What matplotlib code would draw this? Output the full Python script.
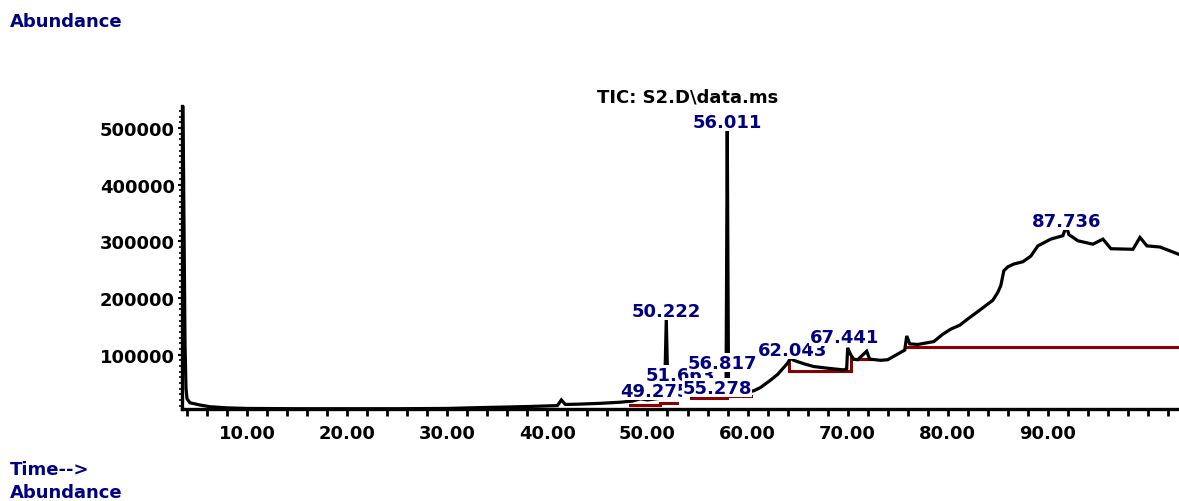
import matplotlib
matplotlib.use("Agg")
import matplotlib.pyplot as plt
from matplotlib.ticker import MultipleLocator, FuncFormatter

# ---------------- data ----------------
time_min = [3.60, 3.80, 3.90, 4.00, 4.30, 5.30, 6.30, 8.00, 10.0, 15.0, 20.0, 25.0,
            30.0, 33.3, 36.0, 38.3, 41.0, 41.4, 41.8, 43.0, 45.3, 47.3, 48.5, 49.3,
            50.0, 51.7, 51.88, 52.05, 53.3, 54.3, 55.5, 57.0, 57.85, 57.97, 58.1,
            58.6, 59.3, 60.6, 61.3, 62.3, 63.0, 64.0, 64.3, 64.6, 65.6, 66.6, 68.0,
            69.6, 69.9, 70.0, 70.3, 70.6, 71.0, 71.9, 72.2, 73.3, 74.0, 75.3, 75.7,
            75.9, 76.2, 77.0, 78.6, 79.5, 80.3, 81.2, 82.0, 83.0, 83.6, 84.5, 85.0,
            85.3, 85.6, 86.0, 86.6, 87.5, 88.3, 89.0, 90.3, 91.5, 91.85, 92.1, 93.0,
            94.5, 95.5, 96.3, 98.5, 99.2, 99.9, 101.2, 103.1]
abundance = [539000, 120000, 40000, 22000, 15000, 11000, 8000, 6000, 5000, 4500, 4500, 4500,
             5000, 6500, 7500, 8500, 10000, 20000, 12000, 12500, 14000, 16000, 18000, 22000,
             20000, 24000, 163600, 26000, 28000, 26000, 30000, 32000, 34000, 503000, 34000,
             36000, 32000, 36000, 42000, 55000, 65000, 85000, 94000, 90000, 84000, 79000, 76000,
             73000, 75000, 112000, 100000, 92000, 91000, 106000, 92000, 90000, 91000, 104000, 108000,
             133000, 119000, 118000, 123000, 136000, 145000, 152000, 163000, 176000, 184000, 196000, 210000,
             222000, 248000, 255000, 260000, 264000, 274000, 292000, 304000, 310000, 327000, 312000, 301000,
             295000, 304000, 287000, 286000, 307000, 292000, 290000, 277000]

# integration baselines: start time, end time, start abundance, end abundance
base_t0 = [48.3, 51.3, 54.3, 57.97, 64.1, 64.1, 70.3, 70.3, 75.8]
base_t1 = [51.3, 53.0, 57.97, 60.3, 64.1, 70.3, 70.3, 72.3, 103.1]
base_y0 = [11900, 15400, 24200, 27800, 92000, 71800, 71800, 92500, 114100]
base_y1 = [11900, 15400, 24200, 27800, 71800, 71800, 95000, 92500, 114100]

# peak labels (text, anchor time, anchor abundance of text baseline)
peak_labels = ["49.275", "50.222", "51.663", "55.278", "56.011", "56.817",
               "62.043", "67.441", "87.736"]
label_t = [50.79, 51.88, 53.29, 56.97, 57.97, 57.48, 64.47, 69.67, 91.85]
label_y = [27750, 168700, 55900, 33000, 501700, 77100, 100000, 123000, 327000]

x_ticks = [10, 20, 30, 40, 50, 60, 70, 80, 90]
y_ticks = [100000, 200000, 300000, 400000, 500000]

# ---------------- drawing ----------------
NAVY = "#000080"
FONT = dict(family="DejaVu Sans", weight="bold")

fig = plt.figure(figsize=(11.79, 5.02), dpi=100)
ax = fig.add_axes([182 / 1179, 92 / 502, 1 - 182 / 1179, 303 / 502])

ax.plot(time_min, abundance, color="black", lw=2.3, solid_joinstyle="miter", zorder=3)

for t0, t1, y0, y1 in zip(base_t0, base_t1, base_y0, base_y1):
    ax.plot([t0, t1], [y0, y1], color="#8B0000", lw=2.2, zorder=2)

for txt, t, y in zip(peak_labels, label_t, label_y):
    ax.text(t, y, txt, ha="center", va="baseline", color=NAVY, fontsize=13,
            bbox=dict(facecolor="white", edgecolor="none", pad=0.3), zorder=5, **FONT)

ax.set_xlim(3.5, 103.1)
ax.set_ylim(4000, 539000)

for s in ["top", "right"]:
    ax.spines[s].set_visible(False)
for s in ["left", "bottom"]:
    ax.spines[s].set_linewidth(2.4)

ax.set_xticks(x_ticks)
ax.xaxis.set_minor_locator(MultipleLocator(2))
ax.xaxis.set_major_formatter(FuncFormatter(lambda v, p: f"{v:.2f}"))
ax.set_yticks(y_ticks)
ax.yaxis.set_minor_locator(MultipleLocator(10000))
ax.yaxis.set_major_formatter(FuncFormatter(lambda v, p: f"{int(v)}"))

ax.tick_params(axis="x", which="both", direction="out", length=5, width=2, pad=6,
               labelsize=13)
ax.tick_params(axis="y", which="major", direction="out", length=3, width=1.5, pad=2,
               labelsize=13)
ax.tick_params(axis="y", which="minor", direction="out", length=2, width=1.2)
for lab in ax.get_xticklabels() + ax.get_yticklabels():
    lab.set_fontweight("bold")
    lab.set_family("DejaVu Sans")

fig.text(10 / 1179, 1 - 22 / 502, "Abundance", ha="left", va="center",
         color=NAVY, fontsize=13, **FONT)
fig.text(688 / 1179, 1 - 97 / 502, "TIC: S2.D\\data.ms", ha="center", va="center",
         color="black", fontsize=13, **FONT)
fig.text(10 / 1179, 1 - 470 / 502, "Time-->", ha="left", va="center",
         color=NAVY, fontsize=13, **FONT)
fig.text(10 / 1179, 1 - 493 / 502, "Abundance", ha="left", va="center",
         color=NAVY, fontsize=13, **FONT)

fig.savefig("out.png", dpi=100)
